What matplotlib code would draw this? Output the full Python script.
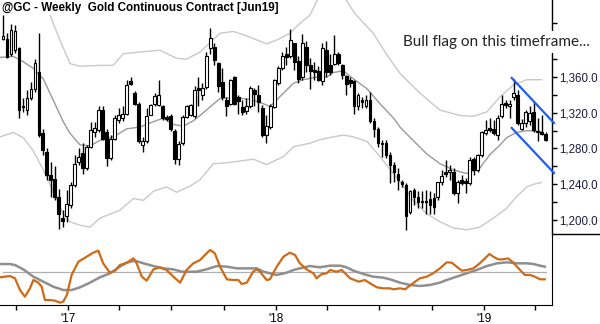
import numpy as np
import pandas as pd
import matplotlib
matplotlib.use('Agg')
import matplotlib.pyplot as plt
from matplotlib.lines import Line2D

# weekly OHLC, gold continuous contract (back-adjusted), first bar week ending 2016-09-09
opens = [1402, 1403, 1386, 1390, 1392, 1328, 1323, 1337, 1347, 1366,
         1297, 1276, 1250, 1246, 1226, 1202, 1204, 1217, 1239, 1265,
         1275, 1258, 1282, 1299, 1301, 1323, 1299, 1269, 1291, 1312,
         1314, 1319, 1355, 1342, 1330, 1284, 1288, 1318, 1330, 1329,
         1327, 1315, 1316, 1300, 1268, 1286, 1315, 1317, 1316, 1348,
         1340, 1349, 1392, 1394, 1376, 1354, 1334, 1330, 1360, 1338,
         1326, 1322, 1327, 1346, 1340, 1325, 1295, 1304, 1326, 1353,
         1370, 1386, 1383, 1398, 1378, 1360, 1394, 1373, 1368, 1367,
         1355, 1390, 1373, 1375, 1386, 1373, 1361, 1357, 1356, 1327,
         1334, 1327, 1334, 1311, 1302, 1286, 1286, 1273, 1261, 1252,
         1242, 1239, 1209, 1234, 1226, 1221, 1221, 1224, 1225, 1226,
         1242, 1254, 1254, 1254, 1230, 1245, 1244, 1241, 1268, 1256,
         1273, 1297, 1303, 1302, 1295, 1316, 1331, 1327, 1338, 1340,
         1302, 1309, 1311, 1321, 1299, 1298, 1296]
highs = [1429, 1409, 1419, 1418, 1394, 1336, 1346, 1354, 1380, 1409,
         1302, 1280, 1265, 1260, 1235, 1211, 1233, 1243, 1273, 1280,
         1286, 1284, 1310, 1310, 1327, 1327, 1302, 1295, 1317, 1325,
         1327, 1357, 1360, 1344, 1332, 1293, 1325, 1330, 1342, 1357,
         1329, 1317, 1319, 1302, 1288, 1317, 1329, 1330, 1350, 1360,
         1353, 1388, 1415, 1398, 1377, 1370, 1338, 1358, 1361, 1340,
         1334, 1336, 1350, 1348, 1351, 1329, 1317, 1330, 1358, 1372,
         1388, 1394, 1414, 1398, 1383, 1408, 1400, 1381, 1377, 1372,
         1398, 1400, 1386, 1407, 1388, 1375, 1362, 1360, 1357, 1342,
         1338, 1340, 1343, 1314, 1304, 1289, 1289, 1276, 1265, 1258,
         1245, 1241, 1233, 1236, 1232, 1232, 1234, 1232, 1230, 1243,
         1256, 1267, 1262, 1258, 1245, 1250, 1247, 1270, 1270, 1274,
         1300, 1312, 1314, 1312, 1317, 1340, 1334, 1334, 1358, 1345,
         1313, 1323, 1327, 1332, 1314, 1317, 1299]
lows = [1401, 1381, 1384, 1387, 1314, 1321, 1317, 1334, 1343, 1293,
        1273, 1245, 1226, 1222, 1190, 1192, 1198, 1213, 1237, 1261,
        1252, 1256, 1280, 1293, 1299, 1290, 1260, 1267, 1289, 1308,
        1311, 1317, 1351, 1329, 1286, 1276, 1286, 1317, 1327, 1327,
        1312, 1311, 1300, 1263, 1262, 1284, 1314, 1316, 1314, 1327,
        1334, 1347, 1386, 1373, 1343, 1334, 1316, 1329, 1329, 1319,
        1317, 1319, 1325, 1327, 1321, 1293, 1286, 1302, 1325, 1351,
        1368, 1373, 1381, 1368, 1353, 1357, 1366, 1347, 1357, 1355,
        1351, 1360, 1362, 1373, 1373, 1358, 1340, 1349, 1319, 1323,
        1325, 1325, 1309, 1293, 1282, 1271, 1269, 1241, 1243, 1233,
        1237, 1189, 1207, 1217, 1213, 1213, 1207, 1207, 1207, 1222,
        1239, 1248, 1245, 1228, 1219, 1239, 1230, 1239, 1250, 1254,
        1271, 1295, 1299, 1295, 1290, 1314, 1325, 1314, 1334, 1306,
        1301, 1304, 1306, 1299, 1288, 1295, 1288]
closes = [1406, 1382, 1413, 1412, 1323, 1326, 1337, 1347, 1376, 1295,
          1278, 1250, 1245, 1226, 1207, 1199, 1218, 1239, 1263, 1271,
          1258, 1282, 1301, 1303, 1323, 1291, 1269, 1291, 1314, 1317,
          1319, 1351, 1352, 1330, 1288, 1288, 1316, 1329, 1339, 1340,
          1314, 1313, 1302, 1268, 1285, 1315, 1327, 1329, 1346, 1345,
          1348, 1383, 1404, 1379, 1350, 1338, 1327, 1357, 1330, 1333,
          1321, 1327, 1348, 1341, 1332, 1295, 1305, 1327, 1357, 1370,
          1383, 1382, 1401, 1377, 1358, 1398, 1374, 1367, 1366, 1357,
          1393, 1366, 1366, 1386, 1376, 1362, 1352, 1353, 1327, 1340,
          1332, 1334, 1311, 1302, 1286, 1285, 1273, 1261, 1254, 1245,
          1240, 1204, 1232, 1226, 1220, 1220, 1220, 1217, 1215, 1242,
          1249, 1252, 1256, 1230, 1243, 1241, 1241, 1267, 1256, 1273,
          1298, 1301, 1301, 1297, 1314, 1330, 1329, 1330, 1342, 1308,
          1309, 1321, 1320, 1301, 1300, 1296, 1290]

# price bands (week number, level)
band_wk = [-0.75, 2.6, 5.1, 7.5, 10.1, 12.6, 15.1, 16.8, 19.3, 21.8, 24.3,
           27.7, 31.0, 34.3, 37.7, 40.2, 42.7, 45.2, 47.7, 49.4, 54.4,
           57.7, 61.9, 65.3, 66.9, 69.4, 72.8, 75.3, 78.7, 81.2, 82.8,
           85.3, 87.8, 91.2, 94.5, 97.9, 99.5, 102.8, 106.2, 109.5, 112.9,
           116.2, 119.5, 122.0, 124.6, 126.2, 128.7, 131.3, 135.0]
band_mid = [1382, 1383, 1377, 1370, 1358, 1334, 1310, 1297, 1284, 1283, 1289,
            1293, 1302, 1304, 1310, 1314, 1307, 1305, 1311, 1317, 1336,
            1337, 1335, 1330, 1327, 1338, 1353, 1357, 1360, 1360, 1365,
            1367, 1358, 1347, 1330, 1314, 1304, 1289, 1274, 1263, 1256,
            1252, 1258, 1273, 1284, 1292, 1298, 1300, 1299]

upper_wk = [11.8, 14.3, 16.8, 19.3, 24.3, 27.6, 30.1, 34.3, 39.3, 43.5,
            46.0, 49.4, 54.4, 57.7, 61.1, 66.1, 69.4, 71.9, 74.4, 76.9,
            79.4, 84.0, 88.2, 92.8, 96.2, 99.5, 104.5, 109.5, 114.5, 117.9,
            121.3, 124.6, 127.9, 131.3, 135.0]
upper_band = [1429, 1401, 1375, 1372, 1373, 1373, 1386, 1388, 1390, 1381,
              1380, 1388, 1409, 1411, 1406, 1397, 1403, 1409, 1420, 1429,
              1452, 1460, 1431, 1409, 1385, 1364, 1342, 1323, 1317, 1316,
              1321, 1338, 1351, 1357, 1357]

lower_wk = [-0.75, 2.6, 5.1, 7.5, 10.1, 12.6, 15.1, 16.8, 19.3, 21.8, 24.3,
            29.3, 32.7, 35.2, 37.7, 41.0, 43.5, 46.9, 49.4, 52.7, 56.1,
            59.4, 62.8, 66.1, 70.3, 72.8, 77.0, 79.5, 82.8, 85.3, 87.8,
            91.2, 94.5, 97.1, 99.5, 102.8, 106.2, 109.5, 112.9, 116.2, 119.5,
            122.9, 126.2, 128.7, 131.3, 133.0, 135.0]
lower_band = [1293, 1298, 1292, 1278, 1256, 1232, 1207, 1198, 1194, 1192, 1202,
              1211, 1224, 1222, 1232, 1237, 1231, 1238, 1245, 1263, 1264,
              1266, 1268, 1262, 1271, 1282, 1286, 1290, 1293, 1295, 1293,
              1288, 1271, 1256, 1243, 1222, 1207, 1198, 1191, 1189, 1192,
              1202, 1213, 1226, 1237, 1240, 1242]

# oscillator panel
fast_wk = [-0.75, 1.75, 3.0, 4.26, 5.5, 6.77, 7.6, 8.85, 9.7, 10.5, 11.8,
           13.0, 14.3, 15.1, 16.0, 17.2, 18.9, 21.0, 22.6, 23.9, 25.1,
           26.8, 28.1, 29.3, 31.0, 32.7, 33.5, 34.8, 36.0, 37.7, 39.3,
           41.0, 42.7, 44.4, 46.0, 47.7, 49.4, 50.6, 51.9, 53.1, 54.4,
           56.1, 57.7, 59.0, 59.8, 61.1, 62.7, 63.6, 64.4, 66.1, 66.9,
           68.6, 70.3, 71.9, 73.2, 74.4, 76.1, 77.8, 78.6, 79.9, 81.1,
           82.0, 83.6, 84.9, 87.0, 89.1, 90.7, 92.0, 93.7, 95.3, 97.0,
           97.8, 99.5, 100.8, 101.6, 103.3, 104.5, 106.2, 107.8, 109.5, 111.2,
           112.5, 113.7, 115.0, 116.2, 117.9, 119.5, 120.8, 121.9, 122.9, 124.1,
           125.4, 126.6, 127.9, 129.6, 130.8, 132.1, 133.3, 134.6, 135.8]
fast_line = [39.0, 40.8, 37.6, 21.1, 11.7, 23.5, 35.2, 31.5, 25.8, 7.0, 7.0,
             6.1, 3.3, 4.7, 14.1, 42.3, 61.0, 68.1, 73.7, 76.5, 58.7,
             45.5, 48.4, 56.3, 59.6, 65.7, 58.7, 39.9, 34.3, 50.2, 53.1,
             49.3, 39.9, 31.5, 49.3, 58.7, 63.4, 70.4, 77.5, 72.8, 54.0,
             36.2, 35.2, 35.2, 29.6, 31.5, 46.9, 50.2, 46.9, 35.2, 36.2,
             54.0, 68.1, 73.7, 70.4, 58.7, 50.2, 44.6, 37.6, 43.7, 44.6,
             49.3, 46.9, 49.3, 37.6, 32.9, 35.2, 30.5, 24.9, 23.5, 23.5,
             22.1, 23.5, 22.1, 25.8, 32.9, 37.6, 39.9, 44.6, 51.6, 60.1,
             59.6, 54.0, 48.4, 49.3, 51.6, 58.7, 65.7, 71.8, 68.1, 64.3,
             64.3, 65.7, 59.6, 49.3, 42.3, 42.3, 39.9, 36.2, 36.2]

slow_wk = [-0.75, 1.75, 3.0, 5.1, 7.6, 10.1, 12.6, 15.1, 17.2, 19.3, 21.8,
           24.3, 26.8, 29.3, 31.0, 33.1, 35.2, 37.7, 40.2, 42.7, 44.8,
           46.9, 48.5, 51.0, 53.6, 56.1, 58.6, 61.1, 63.6, 65.3, 66.9,
           68.6, 71.1, 72.8, 74.4, 76.9, 79.4, 82.0, 84.5, 86.1, 87.8,
           90.3, 92.8, 95.3, 97.0, 99.5, 102.0, 104.5, 107.0, 109.5, 111.2,
           113.7, 116.2, 118.7, 121.3, 123.8, 126.3, 128.8, 131.3, 133.0, 134.6,
           135.8]
slow_line = [57.7, 57.7, 56.3, 50.2, 39.9, 32.9, 25.8, 21.1, 21.1, 24.9, 31.5,
             39.0, 44.6, 54.0, 59.6, 62.4, 58.7, 54.9, 51.6, 50.2, 46.9,
             46.9, 46.9, 50.2, 54.9, 54.0, 51.6, 51.6, 51.6, 46.9, 44.6,
             42.3, 45.5, 49.3, 51.6, 54.9, 53.1, 55.4, 55.4, 53.1, 48.4,
             43.7, 39.9, 38.5, 36.2, 31.5, 28.2, 26.8, 28.2, 31.5, 35.2,
             39.9, 44.6, 49.3, 54.9, 58.7, 60.1, 58.7, 58.7, 57.7, 55.4,
             54.0]
osc_mid = 46.9

# bull flag channel drawn over the last swing
flag_wk = [127.5, 138.1]
flag_upper = [1359, 1308.5]
flag_lower = [1303, 1252.6]

# labelled levels; the 1,400 level sits under the note box
price_ticks = [1200, 1240, 1280, 1320, 1360]
price_minor = [1220, 1260, 1300, 1340, 1380, 1420]

weeks = pd.date_range('2016-09-09', periods=len(closes), freq='W-FRI')
start = weeks[0]


def week_pos(date):
    return (pd.Timestamp(date) - start).days / 7.0


year_pos = [week_pos(d) for d in ['2017-01-01', '2018-01-01', '2019-01-01']]
year_lbl = ["'17", "'18", "'19"]
quarter_pos = [week_pos(d) for d in pd.date_range('2016-10-01', '2019-04-01', freq='QS')]

x = np.arange(len(closes))
o = np.array(opens, float)
h = np.array(highs, float)
l = np.array(lows, float)
c = np.array(closes, float)

fig = plt.figure(figsize=(6, 3.24), dpi=100)
fig.patch.set_facecolor('white')

ax = fig.add_axes([0, 0.2778, 0.92, 0.7222])
ax2 = fig.add_axes([0, 0.0586, 0.92, 0.2192])
xlim = (-0.75, 137.6)

# bands
ax.plot(upper_wk, upper_band, color='#c9c9c9', lw=1.0, zorder=1)
ax.plot(lower_wk, lower_band, color='#c9c9c9', lw=1.0, zorder=1)
ax.plot(band_wk, band_mid, color='#9a9a9a', lw=1.0, zorder=1)

# candles
ax.vlines(x, l, h, color='black', lw=1.0, zorder=2)
up = c >= o
body_lo = np.minimum(o, c)
body_h = np.maximum(np.abs(c - o), 0.6)
ax.bar(x[up], body_h[up], bottom=body_lo[up], width=0.7, color='white',
       edgecolor='black', linewidth=0.8, zorder=3)
ax.bar(x[~up], body_h[~up], bottom=body_lo[~up], width=0.7, color='black',
       edgecolor='black', linewidth=0.8, zorder=3)

ax.plot(flag_wk, flag_upper, color='#1f5ff0', lw=1.6, zorder=4, clip_on=False)
ax.plot(flag_wk, flag_lower, color='#1f5ff0', lw=1.6, zorder=4, clip_on=False)

ax.set_xlim(*xlim)
ax.set_ylim(1184.3, 1446.2)
for s in ['left', 'top', 'bottom']:
    ax.spines[s].set_visible(False)
ax.spines['right'].set_linewidth(1.0)
ax.yaxis.tick_right()
ax.set_yticks(price_ticks)
ax.set_yticklabels([f'{v:,.1f}' for v in price_ticks])
ax.set_yticks(price_minor, minor=True)
ax.tick_params(axis='y', which='both', direction='out', length=3.5, width=1.0,
               pad=2, labelsize=8.3, labelcolor='#1c1c3c')
ax.tick_params(axis='x', bottom=False, labelbottom=False)
for t in ax.get_yticklabels():
    t.set_family('Liberation Sans')

# oscillator
ax2.plot([x[0], x[-1]], [osc_mid, osc_mid], color='#b0b0b0', lw=0.9, zorder=1)
ax2.plot(slow_wk, slow_line, color='#8f8f8f', lw=1.8, zorder=2)
ax2.plot(fast_wk, fast_line, color='#cf6a17', lw=1.6, zorder=3)
ax2.set_xlim(*xlim)
ax2.set_ylim(0, 100)
ax2.spines['left'].set_visible(False)
ax2.spines['top'].set_visible(False)
ax2.set_yticks([])
ax2.set_xticks(year_pos)
ax2.set_xticklabels(year_lbl, family='Liberation Sans', fontsize=8.5)
ax2.set_xticks(quarter_pos, minor=True)
ax2.tick_params(axis='x', which='both', direction='out', length=3.5, width=1.0, pad=2)

fig.add_artist(Line2D([0.92, 1.0], [0.2778, 0.2778], color='black', lw=1.0))

fig.text(2 / 600, 1 - 2 / 324, '@GC - Weekly  Gold Continuous Contract [Jun19]',
         ha='left', va='top', fontsize=8.4, fontweight='bold', family='Liberation Sans')
fig.text(403 / 600, 1 - 42 / 324, 'Bull flag on this timeframe...', ha='left', va='center',
         fontsize=11, family='Lato', color='#222222',
         bbox=dict(facecolor='white', edgecolor='none', pad=3))

fig.savefig('out.png', dpi=100)
